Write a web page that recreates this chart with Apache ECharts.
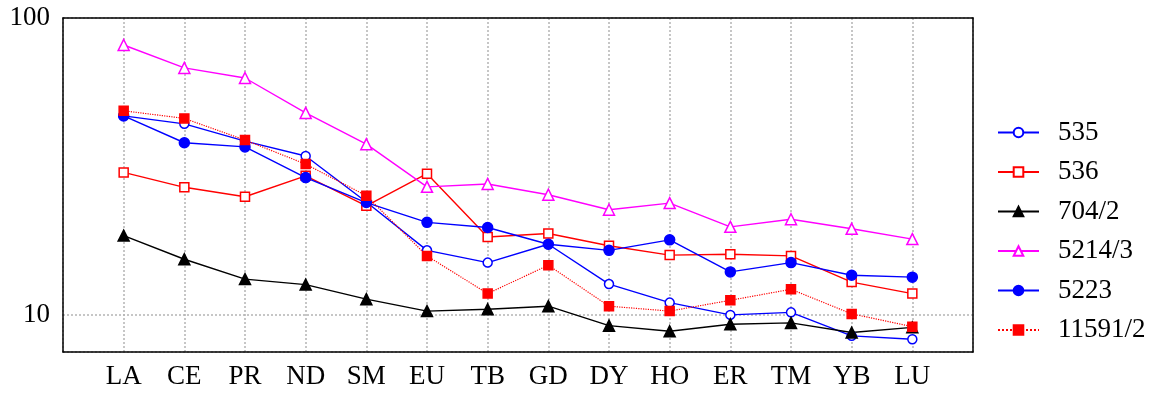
<!DOCTYPE html>
<html>
<head>
<meta charset="utf-8">
<script src="https://cdn.jsdelivr.net/npm/echarts@6/dist/echarts.min.js"></script>
<style>html,body{margin:0;padding:0;background:#fff}#c{width:1156px;height:394px}</style>
</head>
<body>
<div id="c"></div>
<script>
const categories = ['LA','CE','PR','ND','SM','EU','TB','GD','DY','HO','ER','TM','YB','LU'];
const yTickLabels = [10, 100];
const s535    = [46.8, 44.0, 38.5, 34.3, 24.0, 16.5, 15.0, 17.3, 12.7, 11.0, 10.0, 10.2, 8.50, 8.28];
const s536    = [30.2, 26.9, 25.0, 29.4, 23.3, 29.9, 18.3, 18.8, 17.1, 15.9, 16.0, 15.8, 12.9, 11.8];
const s704_2  = [18.5, 15.4, 13.2, 12.65, 11.3, 10.3, 10.45, 10.7, 9.2, 8.81, 9.3, 9.4, 8.72, 9.08];
const s5214_3 = [81.1, 67.9, 62.8, 47.9, 37.6, 27.0, 27.6, 25.4, 22.6, 23.8, 19.8, 21.0, 19.5, 18.0];
const s5223   = [46.8, 38.0, 36.8, 29.0, 23.9, 20.5, 19.7, 17.3, 16.5, 17.9, 13.96, 15.0, 13.6, 13.4];
const s11591_2= [48.7, 45.9, 38.8, 32.2, 25.2, 15.8, 11.8, 14.7, 10.7, 10.3, 11.2, 12.2, 10.08, 9.13];

const toXY = arr => arr.map((v, i) => [i + 1, v]);

function mk(name, data, color, symbol, filled, lineType, size) {
  return {
    name: name, type: 'line', data: toXY(data),
    symbol: symbol, symbolSize: size,
    lineStyle: { color: color, width: lineType === 'dotted' ? 1.2 : 1.4, type: lineType },
    itemStyle: { color: filled ? color : '#fff', borderColor: color, borderWidth: 1.5 },
    emphasis: { disabled: true },
    animation: false
  };
}

const FONT = 'Liberation Serif';
const gridLine = { show: true, lineStyle: { color: '#b4b4b4', width: 1.5, type: [2, 2] } };
const frameLine = { show: true, onZero: false, lineStyle: { color: '#000', width: 1.5 } };

const chart = echarts.init(document.getElementById('c'), null, { renderer: 'canvas' });
chart.setOption({
  animation: false,
  backgroundColor: '#fff',
  textStyle: { fontFamily: FONT },
  grid: { left: 63, right: 183, top: 18, bottom: 42 },
  legend: {
    orient: 'vertical', left: 997, top: 119, padding: 0,
    itemWidth: 41, itemHeight: 12, itemGap: 12.5,
    textStyle: { fontSize: 27, fontFamily: FONT, color: '#000', lineHeight: 26, padding: [0, 0, 0, 14] },
    data: ['535', '536', '704/2', '5214/3', '5223', '11591/2']
  },
  xAxis: [{
    type: 'value', min: 0, max: 15, interval: 1, position: 'bottom',
    axisLine: frameLine, axisTick: { show: false },
    axisLabel: {
      fontSize: 27, fontFamily: FONT, color: '#000', margin: 11,
      formatter: v => (v >= 1 && v <= categories.length) ? categories[v - 1] : ''
    },
    splitLine: gridLine
  }, {
    type: 'value', min: 0, max: 15, interval: 1, position: 'top',
    axisLine: frameLine, axisTick: { show: false }, axisLabel: { show: false }, splitLine: { show: false }
  }],
  yAxis: [{
    type: 'log', logBase: 10, min: 7.5, max: 100, position: 'left',
    axisLine: frameLine, axisTick: { show: false }, minorTick: { show: false },
    axisLabel: {
      fontSize: 27, fontFamily: FONT, color: '#000', margin: 13,
      formatter: v => yTickLabels.some(t => Math.abs(t - v) < 1e-6) ? String(Math.round(v)) : ''
    },
    splitLine: gridLine
  }, {
    type: 'log', logBase: 10, min: 7.5, max: 100, position: 'right',
    axisLine: frameLine, axisTick: { show: false }, axisLabel: { show: false }, splitLine: { show: false }
  }],
  series: [
    mk('535', s535, '#0000ff', 'circle', false, 'solid', 9),
    mk('536', s536, '#ff0000', 'rect', false, 'solid', 9),
    mk('704/2', s704_2, '#000000', 'triangle', true, 'solid', 11),
    mk('5214/3', s5214_3, '#ff00ff', 'triangle', false, 'solid', 11),
    mk('5223', s5223, '#0000ff', 'circle', true, 'solid', 10),
    mk('11591/2', s11591_2, '#ff0000', 'rect', true, 'dotted', 9)
  ]
});
</script>
</body>
</html>
